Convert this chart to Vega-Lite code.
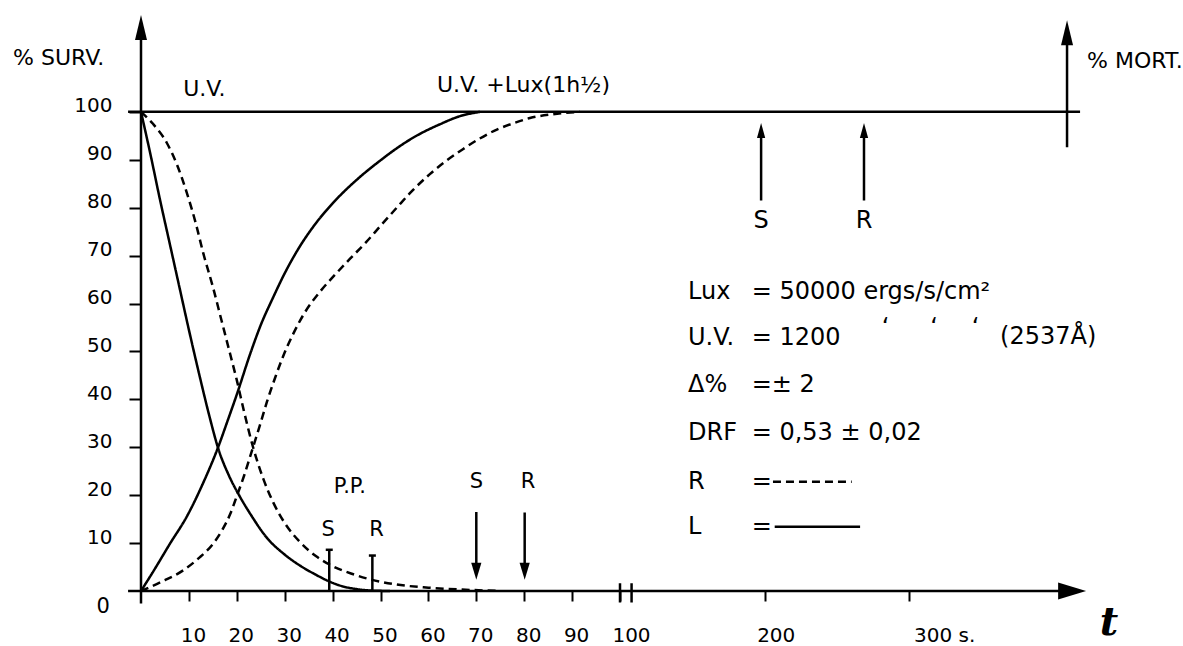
{
  "$schema": "https://vega.github.io/schema/vega-lite/v6.json",
  "width": 945,
  "height": 575,
  "autosize": {"type": "none"},
  "padding": {"left": 141, "top": 16, "right": 97, "bottom": 55},
  "background": "white",
  "config": {"view": {"stroke": null}, "font": "DejaVu Sans"},
  "datasets": {
    "curves": [
      {"series": "L_UV", "style": "L", "x": 0, "y": 100}, {"series": "L_UV", "style": "L", "x": 2, "y": 91}, {"series": "L_UV", "style": "L", "x": 4, "y": 81.5}, {"series": "L_UV", "style": "L", "x": 6, "y": 72.5}, {"series": "L_UV", "style": "L", "x": 8, "y": 63.5}, {"series": "L_UV", "style": "L", "x": 10, "y": 54.5}, {"series": "L_UV", "style": "L", "x": 12.3, "y": 44.6}, {"series": "L_UV", "style": "L", "x": 14.2, "y": 36.8}, {"series": "L_UV", "style": "L", "x": 16.2, "y": 29.5}, {"series": "L_UV", "style": "L", "x": 18.4, "y": 24}, {"series": "L_UV", "style": "L", "x": 20.7, "y": 19.6}, {"series": "L_UV", "style": "L", "x": 23, "y": 15.8}, {"series": "L_UV", "style": "L", "x": 26.2, "y": 11.2}, {"series": "L_UV", "style": "L", "x": 30, "y": 7.6}, {"series": "L_UV", "style": "L", "x": 33.2, "y": 5.3}, {"series": "L_UV", "style": "L", "x": 36.5, "y": 3.4}, {"series": "L_UV", "style": "L", "x": 39.5, "y": 1.9}, {"series": "L_UV", "style": "L", "x": 42, "y": 1}, {"series": "L_UV", "style": "L", "x": 45, "y": 0.4}, {"series": "L_UV", "style": "L", "x": 48, "y": 0.1}, {"series": "L_UV", "style": "L", "x": 52, "y": 0},
      {"series": "R_UV", "style": "R", "x": 0, "y": 100}, {"series": "R_UV", "style": "R", "x": 2.5, "y": 97.5}, {"series": "R_UV", "style": "R", "x": 5.4, "y": 93.5}, {"series": "R_UV", "style": "R", "x": 7.5, "y": 89}, {"series": "R_UV", "style": "R", "x": 9.6, "y": 83}, {"series": "R_UV", "style": "R", "x": 11.5, "y": 76.5}, {"series": "R_UV", "style": "R", "x": 13, "y": 70.5}, {"series": "R_UV", "style": "R", "x": 15, "y": 63.5}, {"series": "R_UV", "style": "R", "x": 16.8, "y": 56.5}, {"series": "R_UV", "style": "R", "x": 18.6, "y": 49.5}, {"series": "R_UV", "style": "R", "x": 20, "y": 44}, {"series": "R_UV", "style": "R", "x": 21.5, "y": 37.5}, {"series": "R_UV", "style": "R", "x": 23.4, "y": 30}, {"series": "R_UV", "style": "R", "x": 25.5, "y": 23.5}, {"series": "R_UV", "style": "R", "x": 27.6, "y": 18.5}, {"series": "R_UV", "style": "R", "x": 30, "y": 14.2}, {"series": "R_UV", "style": "R", "x": 33.2, "y": 10.2}, {"series": "R_UV", "style": "R", "x": 36.5, "y": 7.3}, {"series": "R_UV", "style": "R", "x": 40, "y": 5.2}, {"series": "R_UV", "style": "R", "x": 44, "y": 3.6}, {"series": "R_UV", "style": "R", "x": 48, "y": 2.4}, {"series": "R_UV", "style": "R", "x": 53, "y": 1.4}, {"series": "R_UV", "style": "R", "x": 60, "y": 0.7}, {"series": "R_UV", "style": "R", "x": 67, "y": 0.3}, {"series": "R_UV", "style": "R", "x": 75, "y": 0},
      {"series": "L_UVLux", "style": "L", "x": 0, "y": 0}, {"series": "L_UVLux", "style": "L", "x": 3, "y": 4.8}, {"series": "L_UVLux", "style": "L", "x": 6, "y": 9.8}, {"series": "L_UVLux", "style": "L", "x": 9.6, "y": 15.6}, {"series": "L_UVLux", "style": "L", "x": 13, "y": 22.6}, {"series": "L_UVLux", "style": "L", "x": 16.1, "y": 30}, {"series": "L_UVLux", "style": "L", "x": 18, "y": 35.3}, {"series": "L_UVLux", "style": "L", "x": 20, "y": 41}, {"series": "L_UVLux", "style": "L", "x": 22.8, "y": 49.5}, {"series": "L_UVLux", "style": "L", "x": 25, "y": 55.5}, {"series": "L_UVLux", "style": "L", "x": 27.6, "y": 61.3}, {"series": "L_UVLux", "style": "L", "x": 30, "y": 66.3}, {"series": "L_UVLux", "style": "L", "x": 32.6, "y": 71}, {"series": "L_UVLux", "style": "L", "x": 36.7, "y": 77}, {"series": "L_UVLux", "style": "L", "x": 40.1, "y": 81}, {"series": "L_UVLux", "style": "L", "x": 45.7, "y": 86.4}, {"series": "L_UVLux", "style": "L", "x": 49.9, "y": 89.8}, {"series": "L_UVLux", "style": "L", "x": 53.4, "y": 92.4}, {"series": "L_UVLux", "style": "L", "x": 56.8, "y": 94.6}, {"series": "L_UVLux", "style": "L", "x": 62.4, "y": 97.4}, {"series": "L_UVLux", "style": "L", "x": 66.6, "y": 99.1}, {"series": "L_UVLux", "style": "L", "x": 70.8, "y": 100},
      {"series": "R_UVLux", "style": "R", "x": 0, "y": 0}, {"series": "R_UVLux", "style": "R", "x": 4, "y": 1.8}, {"series": "R_UVLux", "style": "R", "x": 8.8, "y": 4.3}, {"series": "R_UVLux", "style": "R", "x": 12, "y": 6.8}, {"series": "R_UVLux", "style": "R", "x": 15, "y": 9.8}, {"series": "R_UVLux", "style": "R", "x": 17, "y": 12.8}, {"series": "R_UVLux", "style": "R", "x": 18.6, "y": 16}, {"series": "R_UVLux", "style": "R", "x": 20, "y": 19.8}, {"series": "R_UVLux", "style": "R", "x": 21.5, "y": 24}, {"series": "R_UVLux", "style": "R", "x": 23.2, "y": 29.4}, {"series": "R_UVLux", "style": "R", "x": 24.8, "y": 34.5}, {"series": "R_UVLux", "style": "R", "x": 26.3, "y": 39.5}, {"series": "R_UVLux", "style": "R", "x": 28, "y": 44.5}, {"series": "R_UVLux", "style": "R", "x": 29.6, "y": 48.8}, {"series": "R_UVLux", "style": "R", "x": 31.7, "y": 53.5}, {"series": "R_UVLux", "style": "R", "x": 34, "y": 57.8}, {"series": "R_UVLux", "style": "R", "x": 37.4, "y": 62.5}, {"series": "R_UVLux", "style": "R", "x": 40.5, "y": 66}, {"series": "R_UVLux", "style": "R", "x": 43.6, "y": 69.3}, {"series": "R_UVLux", "style": "R", "x": 47, "y": 72.8}, {"series": "R_UVLux", "style": "R", "x": 50, "y": 76.2}, {"series": "R_UVLux", "style": "R", "x": 53.4, "y": 80}, {"series": "R_UVLux", "style": "R", "x": 56.5, "y": 83.4}, {"series": "R_UVLux", "style": "R", "x": 60.3, "y": 87}, {"series": "R_UVLux", "style": "R", "x": 63.5, "y": 89.6}, {"series": "R_UVLux", "style": "R", "x": 67.2, "y": 92.2}, {"series": "R_UVLux", "style": "R", "x": 70.5, "y": 94.3}, {"series": "R_UVLux", "style": "R", "x": 74.3, "y": 96.3}, {"series": "R_UVLux", "style": "R", "x": 78, "y": 97.7}, {"series": "R_UVLux", "style": "R", "x": 81.2, "y": 98.7}, {"series": "R_UVLux", "style": "R", "x": 86, "y": 99.5}, {"series": "R_UVLux", "style": "R", "x": 91.6, "y": 100}
    ],
    "segments": [
      {"name": "x axis", "style": "L", "x": -2.7, "x2": 412, "y": 0, "y2": 0},
      {"name": "y axis", "style": "L", "x": 0, "x2": 0, "y": -2.6, "y2": 117},
      {"name": "100 line", "style": "L", "x": -2.7, "x2": 417.9, "y": 100, "y2": 100},
      {"name": "mort axis", "style": "L", "x": 408.9, "x2": 408.9, "y": 92.6, "y2": 116},
      {"name": "upper S", "style": "L", "x": 197.5, "x2": 197.5, "y": 81.5, "y2": 96},
      {"name": "upper R", "style": "L", "x": 268.6, "x2": 268.6, "y": 81.5, "y2": 96},
      {"name": "lower S", "style": "L", "x": 70, "x2": 70, "y": 16.5, "y2": 4},
      {"name": "lower R", "style": "L", "x": 80.1, "x2": 80.1, "y": 16.4, "y2": 4},
      {"name": "PP S", "style": "L", "x": 39.3, "x2": 39.3, "y": 0, "y2": 8.6},
      {"name": "PP R", "style": "L", "x": 48.3, "x2": 48.3, "y": 0, "y2": 7.4},
      {"name": "break a", "style": "L", "x": 100, "x2": 100, "y": -2.4, "y2": 1.6},
      {"name": "break b", "style": "L", "x": 108, "x2": 108, "y": -2.4, "y2": 1.6},
      {"name": "legend R", "style": "R", "x": 205.7, "x2": 260.1, "y": 22.8, "y2": 22.8},
      {"name": "legend L", "style": "L", "x": 206.9, "x2": 265.9, "y": 13.4, "y2": 13.4}
    ],
    "heads": [
      {"kind": "up", "x": 0, "y": 117.6},
      {"kind": "up", "x": 408.9, "y": 116.5},
      {"kind": "upsmall", "x": 197.5, "y": 96.1},
      {"kind": "upsmall", "x": 268.6, "y": 96.1},
      {"kind": "down", "x": 70, "y": 4.1},
      {"kind": "down", "x": 80.1, "y": 4.1},
      {"kind": "right", "x": 412.4, "y": 0},
      {"kind": "serif", "x": 39.3, "y": 8.6},
      {"kind": "serif", "x": 48.3, "y": 7.4}
    ],
    "labels": [
      {"group": "title", "x": -26.7, "y": 111.3, "text": "% SURV."},
      {"group": "title", "x": 8.8, "y": 104.8, "text": "U.V."},
      {"group": "title", "x": 61.8, "y": 105.7, "text": "U.V. +Lux(1h½)"},
      {"group": "title", "x": 422.7, "y": 110.6, "text": "% MORT."},
      {"group": "bigmark", "x": 197.5, "y": 77.3, "text": "S"},
      {"group": "bigmark", "x": 268.6, "y": 77.3, "text": "R"},
      {"group": "mark", "x": 70, "y": 22.8, "text": "S"},
      {"group": "mark", "x": 80.8, "y": 22.8, "text": "R"},
      {"group": "mark", "x": 43.6, "y": 21.7, "text": "P.P."},
      {"group": "mark", "x": 39.1, "y": 12.7, "text": "S"},
      {"group": "mark", "x": 49.2, "y": 12.7, "text": "R"},
      {"group": "leg", "x": 147, "y": 62.4, "text": "Lux"},
      {"group": "leg", "x": 191, "y": 62.4, "text": "= 50000 ergs/s/cm²"},
      {"group": "leg", "x": 147, "y": 52.7, "text": "U.V."},
      {"group": "leg", "x": 191, "y": 52.7, "text": "= 1200"},
      {"group": "leg", "x": 280.9, "y": 54.8, "text": "‘"},
      {"group": "leg", "x": 314.3, "y": 54.8, "text": "‘"},
      {"group": "leg", "x": 343.1, "y": 54.8, "text": "‘"},
      {"group": "leg", "x": 362.6, "y": 53, "text": "(2537Å)"},
      {"group": "leg", "x": 147, "y": 42.9, "text": "Δ%"},
      {"group": "leg", "x": 191, "y": 42.9, "text": "=± 2"},
      {"group": "leg", "x": 147, "y": 32.9, "text": "DRF"},
      {"group": "leg", "x": 191, "y": 32.9, "text": "= 0,53 ± 0,02"},
      {"group": "leg", "x": 147, "y": 22.8, "text": "R"},
      {"group": "leg", "x": 191, "y": 22.8, "text": "="},
      {"group": "leg", "x": 147, "y": 13.4, "text": "L"},
      {"group": "leg", "x": 191, "y": 13.4, "text": "="},
      {"group": "zero", "x": -6.5, "y": -3.4, "text": "0"},
      {"group": "t", "x": 437.9, "y": -6.6, "text": "t"}
    ]
  },
  "encoding": {
    "x": {
      "field": "x",
      "type": "quantitative",
      "scale": {"domain": [0, 100, 422], "range": [0, 479, 945], "nice": false, "zero": false},
      "axis": {
        "values": [10, 20, 30, 40, 50, 60, 70, 80, 90, 100, 200, 300],
        "title": null,
        "domain": false,
        "grid": false,
        "ticks": true,
        "tickSize": 10,
        "tickWidth": 2,
        "tickColor": "black",
        "labelFont": "DejaVu Sans",
        "labelFontSize": 20,
        "labelColor": "black",
        "labelPadding": 24,
        "labelBaseline": "top",
        "labelFlush": false,
        "labelOverlap": false,
        "labelBound": false,
        "labelExpr": "datum.value == 300 ? '300 s.' : datum.label",
        "labelAlign": {"condition": {"test": "datum.value == 300", "value": "left"}, "value": "center"},
        "labelOffset": {"condition": {"test": "datum.value >= 100 && datum.value < 300", "value": 11}, "value": 4}
      }
    },
    "y": {
      "field": "y",
      "type": "quantitative",
      "scale": {"domain": [0, 120], "nice": false, "zero": false},
      "axis": {
        "values": [10, 20, 30, 40, 50, 60, 70, 80, 90, 100],
        "title": null,
        "domain": false,
        "grid": false,
        "ticks": true,
        "tickSize": 12,
        "tickWidth": 2,
        "tickColor": "black",
        "labelFont": "DejaVu Sans",
        "labelFontSize": 20,
        "labelColor": "black",
        "labelPadding": 17,
        "labelBaseline": "alphabetic",
        "labelFlush": false,
        "labelOverlap": false
      }
    }
  },
  "layer": [
    {
      "data": {"name": "curves"},
      "mark": {"type": "line", "interpolate": "monotone", "strokeWidth": 2.5, "color": "black"},
      "encoding": {
        "detail": {"field": "series", "type": "nominal"},
        "strokeDash": {"field": "style", "type": "nominal", "scale": {"domain": ["L", "R"], "range": [[1, 0], [8, 5]]}, "legend": null}
      }
    },
    {
      "data": {"name": "segments"},
      "mark": {"type": "rule", "strokeWidth": 2.5, "color": "black"},
      "encoding": {
        "x2": {"field": "x2"},
        "y2": {"field": "y2"},
        "strokeDash": {"field": "style", "type": "nominal", "scale": {"domain": ["L", "R"], "range": [[1, 0], [8, 5]]}, "legend": null}
      }
    },
    {
      "data": {"name": "heads"},
      "transform": [{"filter": "datum.kind == 'up'"}],
      "mark": {"type": "point", "shape": "M0,-1L-0.48,1L0.48,1Z", "size": 625, "filled": true, "color": "black", "opacity": 1, "strokeWidth": 0}
    },
    {
      "data": {"name": "heads"},
      "transform": [{"filter": "datum.kind == 'upsmall'"}],
      "mark": {"type": "point", "shape": "M0,-1L-0.55,1L0.55,1Z", "size": 225, "filled": true, "color": "black", "opacity": 1, "strokeWidth": 0}
    },
    {
      "data": {"name": "heads"},
      "transform": [{"filter": "datum.kind == 'down'"}],
      "mark": {"type": "point", "shape": "M0,1L-0.6,-1L0.6,-1Z", "size": 289, "filled": true, "color": "black", "opacity": 1, "strokeWidth": 0}
    },
    {
      "data": {"name": "heads"},
      "transform": [{"filter": "datum.kind == 'right'"}],
      "mark": {"type": "point", "shape": "M1,0L-1,-0.6L-1,0.6Z", "size": 784, "filled": true, "color": "black", "opacity": 1, "strokeWidth": 0}
    },
    {
      "data": {"name": "heads"},
      "transform": [{"filter": "datum.kind == 'serif'"}],
      "mark": {"type": "point", "shape": "stroke", "size": 49, "filled": false, "color": "black", "opacity": 1, "strokeWidth": 2.5}
    },
    {
      "data": {"name": "labels"},
      "transform": [{"filter": "datum.group == 'title'"}],
      "mark": {"type": "text", "align": "left", "baseline": "middle", "fontSize": 22, "font": "DejaVu Sans", "color": "black"},
      "encoding": {"text": {"field": "text"}}
    },
    {
      "data": {"name": "labels"},
      "transform": [{"filter": "datum.group == 'bigmark'"}],
      "mark": {"type": "text", "align": "center", "baseline": "middle", "fontSize": 24, "font": "DejaVu Sans", "color": "black"},
      "encoding": {"text": {"field": "text"}}
    },
    {
      "data": {"name": "labels"},
      "transform": [{"filter": "datum.group == 'mark'"}],
      "mark": {"type": "text", "align": "center", "baseline": "middle", "fontSize": 21, "font": "DejaVu Sans", "color": "black"},
      "encoding": {"text": {"field": "text"}}
    },
    {
      "data": {"name": "labels"},
      "transform": [{"filter": "datum.group == 'leg'"}],
      "mark": {"type": "text", "align": "left", "baseline": "middle", "fontSize": 24, "font": "DejaVu Sans", "color": "black"},
      "encoding": {"text": {"field": "text"}}
    },
    {
      "data": {"name": "labels"},
      "transform": [{"filter": "datum.group == 'zero'"}],
      "mark": {"type": "text", "align": "right", "baseline": "middle", "fontSize": 21, "font": "DejaVu Sans", "color": "black"},
      "encoding": {"text": {"field": "text"}}
    },
    {
      "data": {"name": "labels"},
      "transform": [{"filter": "datum.group == 't'"}],
      "mark": {"type": "text", "align": "center", "baseline": "middle", "fontSize": 40, "font": "DejaVu Serif", "fontStyle": "italic", "fontWeight": "bold", "color": "black"},
      "encoding": {"text": {"field": "text"}}
    }
  ]
}
